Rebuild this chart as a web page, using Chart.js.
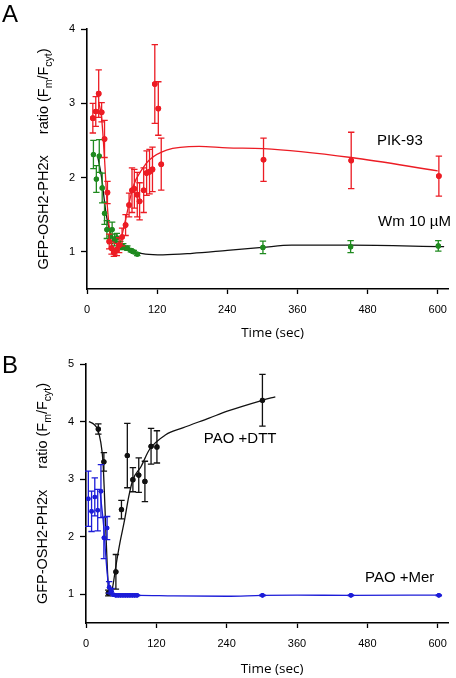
<!DOCTYPE html>
<html><head><meta charset="utf-8">
<script src="https://cdn.jsdelivr.net/npm/chart.js@4.4.0/dist/chart.umd.min.js"></script>
<style>
html,body{margin:0;padding:0;background:#fff;overflow:hidden}
#wrap{position:relative;width:456px;height:678px}
canvas{position:absolute;left:0}
#ca{top:0}
#cb{top:340px}
</style></head><body>
<div id="wrap"><canvas id="ca" width="456" height="340"></canvas><canvas id="cb" width="456" height="338"></canvas></div>
<script>
// ---------- tick labels ----------
const xTicks = [0, 120, 240, 360, 480, 600];
const yTicksA = [1, 2, 3, 4];
const yTicksB = [1, 2, 3, 4, 5];

// ---------- Panel A: PIK-93 (red) ----------
const pikT   = [10, 15, 20, 25, 30, 35, 38, 42, 46, 51, 55, 60, 66, 72, 77, 81, 86, 90, 97, 102, 107, 112, 116, 122, 127, 302, 452, 602];
const pikV   = [2.80, 2.89, 3.13, 2.88, 2.52, 1.80, 1.14, 1.05, 0.99, 1.03, 1.09, 1.20, 1.36, 1.63, 1.83, 1.85, 1.77, 1.68, 1.83, 2.06, 2.08, 2.11, 3.26, 2.93, 2.18, 2.24, 2.23, 2.02];
const pikErr = [0.20, 0.20, 0.32, 0.13, 0.25, 0.15, 0.10, 0.08, 0.05, 0.08, 0.10, 0.12, 0.14, 0.16, 0.30, 0.26, 0.30, 0.25, 0.30, 0.30, 0.30, 0.30, 0.53, 0.36, 0.35, 0.29, 0.38, 0.27];
const pikFitT = [20, 25, 30, 34, 40, 47, 55, 65, 79, 95, 107, 136, 192, 240, 302, 452, 600];
const pikFitV = [3.02, 2.80, 2.25, 1.70, 1.20, 1.01, 1.08, 1.40, 1.88, 2.12, 2.24, 2.37, 2.42, 2.40, 2.39, 2.27, 2.09];

// ---------- Panel A: Wm 10 µM (green) ----------
const wmT   = [11, 16, 21, 26, 30, 34, 40, 43, 47, 51, 57, 62, 69, 75, 80, 86, 301, 451, 601];
const wmV   = [2.31, 1.98, 2.29, 1.86, 1.52, 1.30, 1.21, 1.30, 1.16, 1.19, 1.09, 1.07, 1.05, 1.02, 1.00, 0.97, 1.06, 1.07, 1.08];
const wmErr = [0.19, 0.18, 0.22, 0.20, 0.15, 0.12, 0.10, 0.10, 0.08, 0.06, 0.05, 0.04, 0.03, 0.02, 0.02, 0.02, 0.085, 0.08, 0.07];
const wmFitT = [18, 25, 32, 40, 50, 65, 80, 100, 130, 180, 240, 300, 350, 450, 611];
const wmFitV = [2.30, 2.00, 1.55, 1.25, 1.12, 1.04, 1.00, 0.97, 0.96, 0.98, 1.02, 1.06, 1.09, 1.09, 1.07];

// ---------- Panel B: PAO +DTT (black) ----------
const dttT   = [21, 30.5, 38, 51, 60.5, 70.5, 80, 90, 100.5, 111, 121, 301];
const dttV   = [3.87, 3.30, 1.02, 1.39, 2.47, 3.41, 2.99, 3.07, 2.96, 3.57, 3.56, 4.37];
const dttErr = [0.09, 0.16, 0.05, 0.30, 0.16, 0.56, 0.21, 0.30, 0.35, 0.31, 0.28, 0.45];
const dttFitT = [5, 14, 20, 25, 29, 32, 35, 38, 41, 45, 51, 58, 66, 73, 80, 94, 108, 136, 165, 210, 241, 301, 323];
const dttFitV = [4.00, 3.95, 3.86, 3.65, 3.30, 2.60, 1.80, 1.15, 1.00, 1.10, 1.49, 1.90, 2.30, 2.70, 2.99, 3.22, 3.51, 3.77, 3.89, 4.06, 4.18, 4.37, 4.43];

// ---------- Panel B: PAO +Mer (blue) ----------
const merT   = [4, 9.5, 15, 20, 25.5, 30.5, 36, 39.5, 43.5, 47, 51, 55, 59, 63, 67, 71, 75, 79, 83, 87, 301, 452, 602];
const merV   = [2.66, 2.44, 2.69, 2.46, 2.79, 1.98, 2.15, 1.12, 1.05, 0.99, 0.98, 0.98, 0.98, 0.98, 0.98, 0.98, 0.98, 0.98, 0.98, 0.98, 0.98, 0.98, 0.98];
const merErr = [0.48, 0.35, 0.33, 0.36, 0.46, 0.36, 0.20, 0.10, 0.05, 0.02, 0.01, 0.01, 0.01, 0.01, 0.01, 0.01, 0.01, 0.01, 0.01, 0.01, 0.01, 0.01, 0.01];
const merFitT = [24, 30, 35, 39, 43, 50, 90, 150, 240, 300, 360, 452, 602];
const merFitV = [2.78, 2.20, 1.50, 1.10, 1.00, 0.98, 0.98, 0.97, 0.965, 0.98, 0.985, 0.98, 0.985];

const RED = '#ec1c24', GREEN = '#1f8a1f', BLACK = '#111111', BLUE = '#1c1cd8';
const pts = (t, v) => t.map((x, i) => ({x: x, y: v[i]}));

function scatterDs(t, v, err, color, r, order) {
  return {data: pts(t, v), errors: err, showLine: false, pointRadius: r,
    pointBackgroundColor: color, pointBorderColor: color, pointBorderWidth: 0,
    borderColor: color, errColor: color, order: order};
}
function fitDs(t, v, color, order) {
  return {data: pts(t, v), showLine: true, pointRadius: 0, borderColor: color,
    borderWidth: 1.3, cubicInterpolationMode: 'monotone', fill: false, order: order};
}

const errPlugin = {
  id: 'errbars',
  afterDatasetDraw(chart, args) {
    const ds = chart.data.datasets[args.index];
    if (!ds.errors) return;
    const xs = chart.scales.x, ys = chart.scales.y, ctx = chart.ctx;
    ctx.save();
    ctx.strokeStyle = ds.errColor; ctx.lineWidth = 1.3;
    ds.data.forEach((p, i) => {
      const e = ds.errors[i];
      const px = xs.getPixelForValue(p.x);
      const y1 = ys.getPixelForValue(p.y + e), y2 = ys.getPixelForValue(p.y - e);
      ctx.beginPath();
      ctx.moveTo(px, y1); ctx.lineTo(px, y2);
      ctx.moveTo(px - 3.2, y1); ctx.lineTo(px + 3.2, y1);
      ctx.moveTo(px - 3.2, y2); ctx.lineTo(px + 3.2, y2);
      ctx.stroke();
    });
    ctx.restore();
    // redraw points of this dataset on top of bars
    args.meta.data.forEach(el => el.draw(ctx, chart.chartArea));
  }
};

const textPlugin = {
  id: 'texts',
  afterDraw(chart) {
    const o = chart.options.plugins.texts;
    const ctx = chart.ctx, ca = chart.chartArea;
    ctx.save();
    ctx.fillStyle = '#000';
    // panel letter
    ctx.font = '24px "Liberation Sans", Arial, sans-serif';
    ctx.textAlign = 'left'; ctx.textBaseline = 'alphabetic';
    ctx.fillText(o.letter, 2, o.letterY);
    // x title
    ctx.font = '13.5px "Open Sans", sans-serif';
    ctx.textAlign = 'center'; ctx.textBaseline = 'middle';
    ctx.fillText('Time (sec)', (ca.left + ca.right) / 2 + 5, ca.bottom + o.xTitleOff);
    // annotations
    ctx.font = '15px "Liberation Sans", Arial, sans-serif';
    ctx.textAlign = 'left';
    o.notes.forEach(n => {
      ctx.fillText(n.text, chart.scales.x.getPixelForValue(n.x), chart.scales.y.getPixelForValue(n.y));
    });
    // y title with subscripts
    const big = '14.5px "Liberation Sans", Arial, sans-serif';
    const small = '10.5px "Liberation Sans", Arial, sans-serif';
    const parts = [
      {t: 'GFP-OSH2-PH2x', f: big, dy: 0},
      {gap: 21},
      {t: 'ratio (F', f: big, dy: 0},
      {t: 'm', f: small, dy: 3.5},
      {t: '/F', f: big, dy: 0},
      {t: 'cyt', f: small, dy: 3.5},
      {t: ')', f: big, dy: 0}
    ];
    let total = 0;
    parts.forEach(p => { if (p.gap) { p.w = p.gap; } else { ctx.font = p.f; p.w = ctx.measureText(p.t).width; } total += p.w; });
    ctx.translate(o.yTitleX, (ca.top + ca.bottom) / 2);
    ctx.rotate(-Math.PI / 2);
    ctx.textAlign = 'left'; ctx.textBaseline = 'alphabetic';
    let x = -total / 2;
    parts.forEach(p => {
      if (!p.gap) { ctx.font = p.f; ctx.fillText(p.t, x, p.dy); }
      x += p.w;
    });
    ctx.restore();
  }
};

function makeChart(id, datasets, yMax, yTicks, yW, xH, padTop, padRight, texts) {
  const tickFont = {family: '"Liberation Sans", Arial, sans-serif', size: 11};
  return new Chart(document.getElementById(id), {
    type: 'line',
    data: {datasets: datasets},
    plugins: [errPlugin, textPlugin],
    options: {
      responsive: false, animation: false, devicePixelRatio: 1, events: [],
      layout: {padding: {top: padTop, right: padRight, left: 0, bottom: 0}},
      plugins: {legend: {display: false}, tooltip: {enabled: false}, texts: texts},
      scales: {
        x: {type: 'linear', min: 0, max: 618,
          afterBuildTicks: s => { s.ticks = xTicks.map(v => ({value: v})); },
          afterFit: s => { s.height = xH; },
          grid: {display: true, drawOnChartArea: false, drawTicks: true, tickLength: 5, tickWidth: 1.3, tickColor: '#000'},
          border: {display: true, color: '#000', width: 1.6},
          ticks: {color: '#000', font: tickFont, padding: 9, maxRotation: 0, autoSkip: false}
        },
        y: {type: 'linear', min: 0.5, max: yMax,
          afterBuildTicks: s => { s.ticks = yTicks.map(v => ({value: v})); },
          afterFit: s => { s.width = yW; },
          grid: {display: true, drawOnChartArea: false, drawTicks: true, tickLength: 6, tickWidth: 1.3, tickColor: '#000'},
          border: {display: true, color: '#000', width: 1.6},
          ticks: {color: '#000', font: tickFont, padding: 6}
        }
      }
    }
  });
}

makeChart('ca', [
  scatterDs(wmT, wmV, wmErr, GREEN, 2.6, 2),
  scatterDs(pikT, pikV, pikErr, RED, 2.8, 1),
  fitDs(pikFitT, pikFitV, RED, 3),
  fitDs(wmFitT, wmFitV, BLACK, 4)
], 4, yTicksA, 87, 51, 29, 4, {
  letter: 'A', letterY: 22, xTitleOff: 44, yTitleX: 48,
  notes: [{text: 'PIK-93', x: 496, y: 2.49}, {text: 'Wm 10 µM', x: 498, y: 1.40}]
});

makeChart('cb', [
  scatterDs(merT, merV, merErr, BLUE, 2.3, 1),
  scatterDs(dttT, dttV, dttErr, BLACK, 2.6, 2),
  fitDs(merFitT, merFitV, BLUE, 3),
  fitDs(dttFitT, dttFitV, BLACK, 4)
], 5, yTicksB, 86, 55, 24, 5, {
  letter: 'B', letterY: 33, xTitleOff: 46, yTitleX: 47,
  notes: [{text: 'PAO +DTT', x: 201, y: 3.70}, {text: 'PAO +Mer', x: 476, y: 1.29}]
});
</script>
</body></html>
